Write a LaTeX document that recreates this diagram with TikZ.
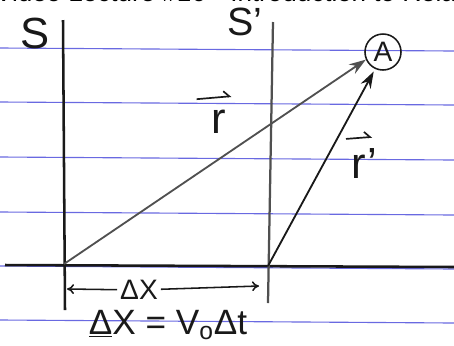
\documentclass[tikz,border=0pt]{standalone}
\usepackage{fontspec}
\setmainfont{Liberation Sans}
\usetikzlibrary{arrows.meta}
\definecolor{ruled}{RGB}{105,105,225}
\definecolor{pencil}{RGB}{80,80,80}
\definecolor{ink}{RGB}{25,25,25}
\tikzset{
  hand/.style={font=\fontsize{#1}{#1}\selectfont, text=ink, inner sep=2pt},
  vecarrow/.style={-{Stealth[length=12pt,width=8pt,inset=4pt]}, line width=1.3pt},
  overarrow/.style={ink, line width=1.2pt, -{Straight Barb[left,length=4pt]}},
  dxarrow/.style={ink, line width=1.1pt, -{To[length=5pt,width=7pt]}}
}
\begin{document}
\begin{tikzpicture}[x=0.025cm,y=-0.025cm]
\useasboundingbox (0,0) rectangle (454,345);
\clip (0,0) rectangle (454,345);
\fill[white] (0,0) rectangle (454,345);
% ruled paper
\foreach \y in {48,102,157,212,266,320}
  \draw[ruled, line width=0.8pt] (0,\y) -- (454,\y+3);
% title, cut off at the top
\node[font=\fontsize{18.5pt}{20pt}\selectfont, anchor=base east, inner sep=0pt] (title1) at (222,1.5) {Video Lecture \#16 -};
\node[font=\fontsize{18.5pt}{20pt}\selectfont, anchor=base west, inner sep=0pt] (title2) at (230,1.5) {Introduction to Relativity};
% frames
\draw[ink, line width=1.8pt] (5,265) -- (454,267);
\draw[ink, line width=1.8pt] (63,20) -- (65,310);
\draw[pencil, line width=1.6pt] (273,22) -- (268,303);
\coordinate (O) at (64,264);
\coordinate (Op) at (268,266);
\node[hand=31pt] (S) at (35,33) {S};
\node[hand=28pt] (Sp) at (245,22) {S'};
% point A
\node[circle, draw=ink, line width=1.1pt, minimum size=0.9cm, inner sep=0pt, font=\fontsize{20pt}{20pt}\selectfont, text=ink] (A) at (383,52) {A};
% position vectors
\draw[vecarrow, pencil] (O) -- (A.204);
\draw[vecarrow, ink, shorten >=2pt] (Op) -- (A.245);
\node[hand=31pt] (r) at (219,122) {r};
\draw[overarrow] ([shift={(-12,-8)}]r.north west) -- ([shift={(2,-11)}]r.north east);
\node[hand=31pt] (rp) at (364,163) {r'};
\draw[overarrow] ([shift={(-2,-6)}]rp.north west) -- ([shift={(-8,-8)}]rp.north east);
% displacement
\coordinate (dxl) at (67,289);
\coordinate (dxr) at (259,286);
\node[hand=20pt] (dx) at (139,290) {ΔX};
\draw[dxarrow] (dx) -- (dxl);
\draw[dxarrow] (dx) -- (dxr);
\node[hand=25pt] (eq) at (168,325) {\underline{Δ}X = V\textsubscript{o}Δt};
\end{tikzpicture}
\end{document}
